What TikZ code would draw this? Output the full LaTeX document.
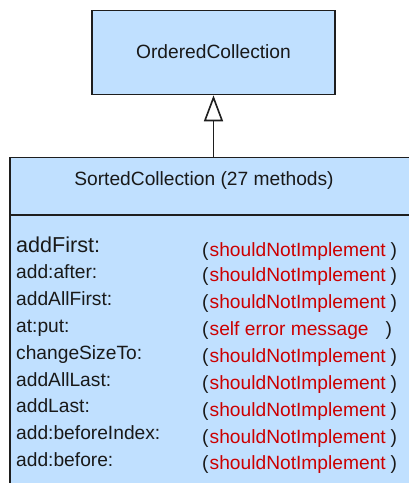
\documentclass[tikz,border=0pt]{standalone}
\usepackage{fontspec}
\setmainfont{Liberation Sans}
\usetikzlibrary{arrows.meta}
\definecolor{classfill}{RGB}{192,224,255}
\definecolor{classline}{RGB}{30,30,30}
\definecolor{errred}{RGB}{204,0,0}
\definecolor{txt}{RGB}{25,25,25}
\tikzset{
  classbox/.style={draw=classline, fill=classfill, line width=1.6pt, inner sep=0pt},
  umltext/.style={inner sep=0pt, text=txt, font=\fontsize{19.2}{23}\selectfont},
  methodname/.style={umltext, anchor=base west},
  paren/.style={umltext, anchor=base west},
  reason/.style={umltext, anchor=base west, text=errred},
  inherit/.style={draw=classline, line width=1.6pt,
    -{Triangle[open, length=26pt, width=19pt, line width=1.6pt, fill=white]}}
}
\begin{document}
\begin{tikzpicture}[x=1pt, y=-1pt]
\useasboundingbox (0,0) rectangle (409,483);
\fill[white] (0,0) rectangle (409,483);

% superclass
\node[classbox, minimum width=243pt, minimum height=84pt] (oc) at (213.5,52.5) {};
\node[umltext, anchor=base] (octitle) at (213.5,58.5) {OrderedCollection};

% subclass, running past the lower and right edges
\node[classbox, minimum width=420pt, minimum height=345pt] (sc) at (220,330) {};
\coordinate (divl) at (10,215);
\coordinate (divr) at (430,215);
\draw[draw=classline, line width=1.6pt] (divl) -- (divr);
\node[umltext, anchor=base] (sctitle) at (204,185) {SortedCollection (27 methods)};

% generalisation arrow
\draw[inherit] (oc.south |- sc.north) -- (oc.south);

% method rows
\node[methodname, font=\fontsize{21.6}{26}\selectfont] (m1) at (16,252.5) {addFirst:};
\node[methodname] (m2) at (16,278.5) {add:after:};
\node[methodname] (m3) at (16,305.5) {addAllFirst:};
\node[methodname] (m4) at (16,332.3) {at:put:};
\node[methodname] (m5) at (16,359.2) {changeSizeTo:};
\node[methodname] (m6) at (16,386) {addAllLast:};
\node[methodname] (m7) at (16,412.8) {addLast:};
\node[methodname] (m8) at (16,439.7) {add:beforeIndex:};
\node[methodname] (m9) at (16,466.5) {add:before:};

% reasons
\foreach \i/\y in {1/256.5, 2/281, 3/308, 5/362, 6/389, 7/416, 8/443, 9/469.5} {
  \node[paren] (lp\i) at (202,\y) {(};
  \node[reason] (r\i) at (209.5,\y) {shouldNotImplement};
  \node[paren] (rp\i) at (390.5,\y) {)};
}
\node[paren] (lp4) at (202,335) {(};
\node[reason] (r4) at (209.5,335) {self error message};
\node[paren] (rp4) at (385.5,335) {)};
\end{tikzpicture}
\end{document}
